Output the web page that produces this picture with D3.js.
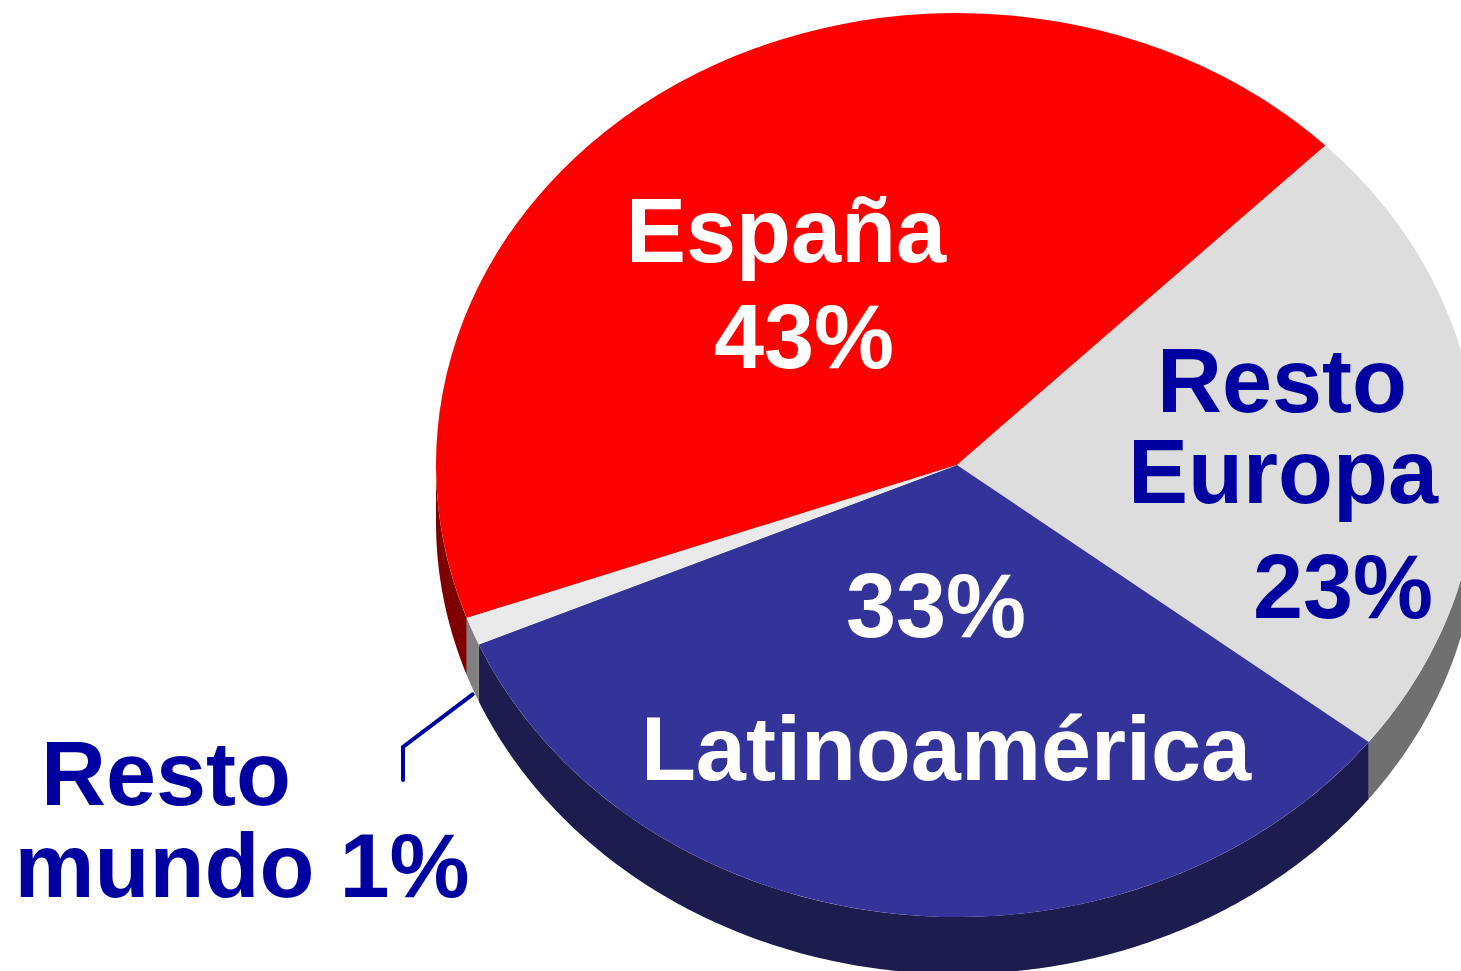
<!DOCTYPE html>
<html>
<head>
<meta charset="utf-8">
<script src="https://cdn.jsdelivr.net/npm/d3@7"></script>
<style>
  html, body { margin: 0; padding: 0; background: #fff; }
  svg { display: block; }
  text { font-family: "Liberation Sans", Arial, sans-serif; font-weight: bold; }
</style>
</head>
<body>
<script>
// Data
const regions = ["España", "Resto Europa", "Latinoamérica", "Resto mundo"];
const shares = [43, 23, 33, 1];
const topColors = ["#FF0000", "#DDDDDD", "#333399", "#EAEAEA"];
const sideColors = ["#7F0000", "#707070", "#1C1C4E", "#808080"];
const labelLines = [["España", "43%"], ["Resto", "Europa", "23%"], ["33%", "Latinoamérica"], ["Resto", "mundo 1%"]];
const labelColors = ["#FFFFFF", "#0000A0", "#FFFFFF", "#0000A0"];

const width = 1461, height = 971;
const cx = 957, cy = 465, rx = 521, ry = 452, depth = 57;

const svg = d3.select("body").append("svg")
    .attr("width", width)
    .attr("height", height);

// angles: España starts so that its end lands at 45deg (clockwise from top)
const startAngle = (45 - 3.6 * shares[0]) * Math.PI / 180;
const pie = d3.pie().sort(null).value(d => d)
    .startAngle(startAngle)
    .endAngle(startAngle + 2 * Math.PI);
const arcs = pie(shares);

function pt(a, dz) {
    return [cx + rx * Math.sin(a), cy - ry * Math.cos(a) + dz];
}

// front part of the rim (right -> bottom -> left)
function frontRanges(s, e) {
    const out = [];
    for (const k of [-1, 0, 1]) {
        const lo = Math.max(s + 2 * Math.PI * k, Math.PI / 2);
        const hi = Math.min(e + 2 * Math.PI * k, 3 * Math.PI / 2);
        if (lo < hi) out.push([lo, hi]);
    }
    return out;
}

const line = d3.line();
const sides = svg.append("g").attr("class", "sides");
arcs.forEach((d, i) => {
    frontRanges(d.startAngle, d.endAngle).forEach(([a0, a1]) => {
        const n = Math.max(2, Math.ceil((a1 - a0) / 0.01));
        const angs = d3.range(n + 1).map(j => a0 + (a1 - a0) * j / n);
        const pts = angs.map(a => pt(a, 0)).concat(angs.slice().reverse().map(a => pt(a, depth)));
        sides.append("path")
            .attr("d", line(pts) + "Z")
            .attr("fill", sideColors[i]);
    });
});

// top faces
const arc = d3.arc().innerRadius(0).outerRadius(rx);
svg.append("g")
    .attr("transform", `translate(${cx},${cy}) scale(1,${ry / rx})`)
    .selectAll("path")
    .data(arcs)
    .join("path")
    .attr("d", arc)
    .attr("fill", (d, i) => topColors[i]);

// leader line for the small slice
const rm = arcs[3];
const mid = (rm.startAngle + rm.endAngle) / 2;
const p0 = pt(mid, depth);
svg.append("path")
    .attr("d", line([[p0[0], p0[1] + 6], [403, 747], [403, 780]]))
    .attr("fill", "none")
    .attr("stroke", "#0000A0")
    .attr("stroke-width", 4)
    .attr("stroke-linecap", "round")
    .attr("stroke-linejoin", "miter");

// label placement (centre x, baseline of each line)
const labelPos = [
    [[786, 262], [804, 368]],
    [[1282, 412], [1283, 503], [1343, 618]],
    [[936, 637], [946, 780]],
    [[166, 805], [242, 897]]
];

labelLines.forEach((lines, i) => {
    lines.forEach((t, j) => {
        svg.append("text")
            .attr("x", labelPos[i][j][0])
            .attr("y", labelPos[i][j][1])
            .attr("text-anchor", "middle")
            .attr("fill", labelColors[i])
            .style("font-size", "90px")
            .text(t);
    });
});
</script>
</body>
</html>
